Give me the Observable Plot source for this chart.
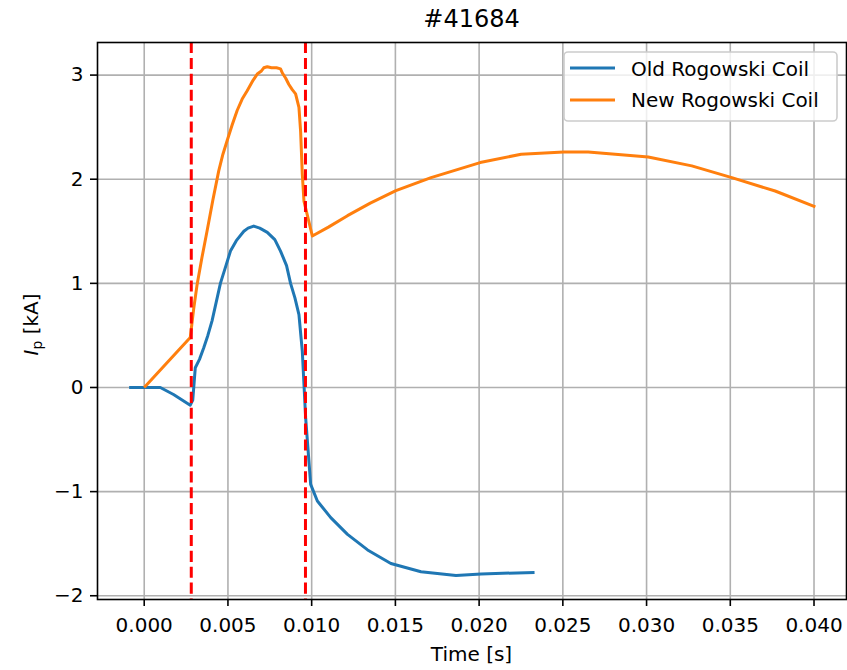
<!DOCTYPE html>
<html>
<head>
<meta charset="utf-8">
<script src="https://cdn.jsdelivr.net/npm/d3@7"></script>
<script src="https://cdn.jsdelivr.net/npm/@observablehq/plot@0.6"></script>
<style>
  html, body { margin: 0; padding: 0; background: white; }
  #chart { position: relative; width: 847px; height: 670px; }
  svg text { font-family: "DejaVu Sans", sans-serif; }
</style>
</head>
<body>
<div id="chart"></div>
<script>
// ---- Data ----
const chartTitle = "#41684";
const seriesNames = ["Old Rogowski Coil", "New Rogowski Coil"];
const seriesColors = ["#1f77b4", "#ff7f0e"];

const oldTime = [-0.0009, 0.00096, 0.00175, 0.00275, 0.0029, 0.00305, 0.0033, 0.00355, 0.0038, 0.00405, 0.0043, 0.00455, 0.0049, 0.00515, 0.0055, 0.00595, 0.0062, 0.00654, 0.0069, 0.00735, 0.0078, 0.00814, 0.0085, 0.00874, 0.009, 0.00924, 0.00944, 0.00964, 0.00994, 0.01034, 0.01114, 0.01214, 0.01334, 0.01473, 0.01653, 0.01862, 0.02012, 0.02331];
const oldCurrent = [0, 0, -0.067, -0.17, -0.12, 0.19, 0.27, 0.38, 0.5, 0.64, 0.82, 1.0, 1.18, 1.31, 1.41, 1.50, 1.53, 1.55, 1.53, 1.49, 1.42, 1.31, 1.17, 1.0, 0.86, 0.70, 0.35, -0.29, -0.93, -1.09, -1.25, -1.41, -1.56, -1.69, -1.77, -1.805, -1.79, -1.776];

const newTime = [0, 0.00275, 0.00295, 0.00316, 0.00345, 0.00375, 0.0041, 0.00445, 0.0047, 0.00495, 0.00525, 0.00555, 0.00585, 0.00615, 0.0065, 0.00675, 0.007, 0.00714, 0.00735, 0.0076, 0.0079, 0.00814, 0.00825, 0.00845, 0.00864, 0.00884, 0.00904, 0.00924, 0.00934, 0.00944, 0.00954, 0.01004, 0.011, 0.01214, 0.0135, 0.01503, 0.01713, 0.02006, 0.02251, 0.02505, 0.02651, 0.0301, 0.0327, 0.03509, 0.03768, 0.04008];
const newCurrent = [0, 0.48, 0.75, 0.99, 1.25, 1.50, 1.80, 2.08, 2.24, 2.37, 2.52, 2.66, 2.77, 2.85, 2.95, 3.01, 3.04, 3.07, 3.08, 3.07, 3.07, 3.06, 3.02, 2.97, 2.91, 2.86, 2.82, 2.69, 2.46, 2.05, 1.79, 1.455, 1.54, 1.65, 1.77, 1.89, 2.015, 2.16, 2.24, 2.262, 2.262, 2.214, 2.128, 2.015, 1.887, 1.734];

const markerTimes = [0.00281, 0.00963];
const xTicks = [0, 0.005, 0.01, 0.015, 0.02, 0.025, 0.03, 0.035, 0.04];
const yTicks = [-2, -1, 0, 1, 2, 3];
const xLabel = "Time [s]";

// ---- Build tables ----
const oldData = oldTime.map((t, i) => ({t, v: oldCurrent[i]}));
const newData = newTime.map((t, i) => ({t, v: newCurrent[i]}));

const W = 847, H = 670;
const mL = 97, mR = 1, mT = 42, mB = 71;

const plot = Plot.plot({
  width: W,
  height: H,
  marginLeft: mL,
  marginRight: mR,
  marginTop: mT,
  marginBottom: mB,
  style: {fontFamily: "DejaVu Sans", fontSize: "20px", color: "black", background: "white"},
  x: {domain: [-0.00279, 0.04194]},
  y: {domain: [-2.036, 3.313]},
  marks: [
    Plot.gridX(xTicks, {stroke: "#b0b0b0", strokeOpacity: 1, strokeWidth: 1.6}),
    Plot.gridY(yTicks, {stroke: "#b0b0b0", strokeOpacity: 1, strokeWidth: 1.6}),
    Plot.line(oldData, {x: "t", y: "v", stroke: seriesColors[0], strokeWidth: 3, strokeLinejoin: "round", strokeLinecap: "butt"}),
    Plot.line(newData, {x: "t", y: "v", stroke: seriesColors[1], strokeWidth: 3, strokeLinejoin: "round", strokeLinecap: "butt"}),
    Plot.ruleX(markerTimes, {stroke: "red", strokeWidth: 3, strokeDasharray: "11.1,4.8"}),
    Plot.frame({stroke: "black", strokeWidth: 1.6}),
    Plot.axisX(xTicks, {tickFormat: d3.format(".3f"), tickSize: 7, tickPadding: 11, strokeWidth: 1.6, fontSize: 20, label: null}),
    Plot.axisY(yTicks, {tickFormat: d3.format("d"), tickSize: 7, tickPadding: 7, strokeWidth: 1.6, fontSize: 20, label: null})
  ]
});

document.getElementById("chart").appendChild(plot);

const svg = d3.select(plot);
const axCx = (mL + (W - mR)) / 2;
const axCy = (mT + (H - mB)) / 2;

// Title
svg.append("text")
  .attr("x", axCx).attr("y", 27)
  .attr("text-anchor", "middle")
  .attr("font-size", 24)
  .attr("fill", "black")
  .text(chartTitle);

// X label
svg.append("text")
  .attr("x", axCx).attr("y", 661)
  .attr("text-anchor", "middle")
  .attr("font-size", 20)
  .attr("fill", "black")
  .text(xLabel);

// Y label: I_p [kA]
const yl = svg.append("text")
  .attr("transform", `translate(38,${axCy + 4}) rotate(-90)`)
  .attr("text-anchor", "middle")
  .attr("font-size", 20)
  .attr("fill", "black");
yl.append("tspan").attr("font-style", "italic").text("I");
yl.append("tspan").attr("font-size", 14).attr("dy", 4).text("p");
yl.append("tspan").attr("dy", -4).text(" [kA]");

// Legend
const lg = svg.append("g");
lg.append("rect")
  .attr("x", 564).attr("y", 52).attr("width", 273).attr("height", 69)
  .attr("rx", 4).attr("ry", 4)
  .attr("fill", "white").attr("fill-opacity", 0.8)
  .attr("stroke", "#cccccc").attr("stroke-width", 1.6);
seriesNames.forEach((name, i) => {
  const cy = 68 + i * 32;
  lg.append("line")
    .attr("x1", 570).attr("x2", 615).attr("y1", cy).attr("y2", cy)
    .attr("stroke", seriesColors[i]).attr("stroke-width", 3);
  lg.append("text")
    .attr("x", 631).attr("y", 76 + i * 30.5)
    .attr("text-anchor", "start")
    .attr("font-size", 20).attr("fill", "black")
    .text(name);
});
</script>
</body>
</html>
